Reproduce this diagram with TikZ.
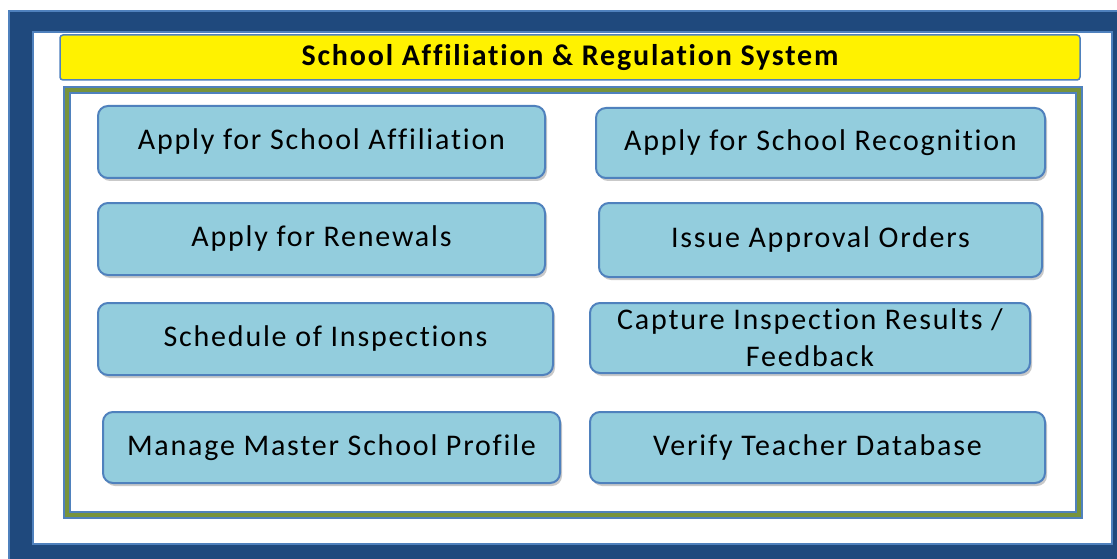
\documentclass[tikz,border=0pt]{standalone}
\usepackage{fontspec}
\setmainfont{Carlito}
\newfontfamily\boxfont{Carlito}[LetterSpace=6, Ligatures=NoCommon]
\newfontfamily\titlefont{Carlito}[LetterSpace=6, Ligatures=NoCommon]
\usetikzlibrary{shadows}
\definecolor{frameblue}{HTML}{1F497D}
\definecolor{lineblue}{HTML}{4F81BD}
\definecolor{olive}{HTML}{77933C}
\definecolor{boxfill}{HTML}{93CDDD}
\tikzset{
  fnbox/.style={draw=lineblue, line width=2pt, fill=boxfill, rounded corners=10pt,
    align=center, font=\boxfont\fontsize{30}{35}\selectfont, text=black,
    drop shadow={shadow xshift=2pt, shadow yshift=-3pt, fill=black!35, opacity=0.6},
    inner sep=0pt},
  titlebar/.style={draw=lineblue, line width=1.5pt, fill=yellow, rounded corners=3pt,
    font=\titlefont\fontsize{30}{34}\selectfont\bfseries, text=black, inner sep=0pt}
}
\begin{document}
\begin{tikzpicture}[x=1pt,y=-1pt]
\useasboundingbox (0,0) rectangle (1117,559);
\clip (0,0) rectangle (1117,559);
% outer frame
\fill[white] (0,0) rectangle (1117,559);
\filldraw[fill=frameblue, draw=lineblue, line width=1.5pt] (9,11) rectangle (1140,600);
\filldraw[fill=white, draw=lineblue, line width=2pt] (33,32) rectangle (1112,544);
% title bar
\node[titlebar, minimum width=1020pt, minimum height=45pt] (title) at (570,57.5) {School Affiliation \& Regulation System};
% panel
\filldraw[fill=white, draw=lineblue, line width=8pt, drop shadow={shadow xshift=1pt, shadow yshift=-4pt, fill=black!30, opacity=0.5}] (67,90) rectangle (1079,515);
\draw[olive, line width=4pt] (67,90) rectangle (1079,515);
% boxes
\node[fnbox, minimum width=447pt, minimum height=72pt] (b1) at (321.5,142) {Apply for School Affiliation};
\node[fnbox, minimum width=449pt, minimum height=70pt] (b2) at (820.5,143) {Apply for School Recognition};
\node[fnbox, minimum width=447pt, minimum height=72pt] (b3) at (321.5,239) {Apply for Renewals};
\node[fnbox, minimum width=443pt, minimum height=74pt] (b4) at (820.5,240) {Issue Approval Orders};
\node[fnbox, minimum width=455pt, minimum height=72pt] (b5) at (325.5,339) {Schedule of Inspections};
\node[fnbox, minimum width=440pt, minimum height=70pt, font=\boxfont\fontsize{30}{37}\selectfont] (b6) at (810,338) {Capture Inspection Results /\\Feedback};
\node[fnbox, minimum width=457pt, minimum height=71pt] (b7) at (331.5,447.5) {Manage Master School Profile};
\node[fnbox, minimum width=455pt, minimum height=71pt] (b8) at (817.5,447.5) {Verify Teacher Database};
\end{tikzpicture}
\end{document}
